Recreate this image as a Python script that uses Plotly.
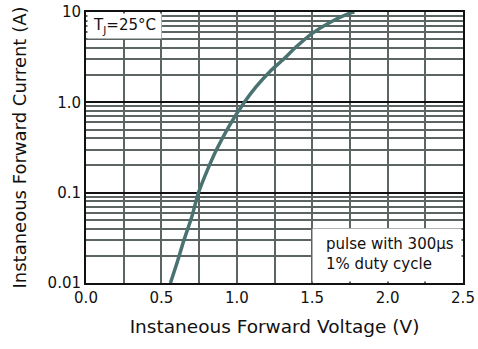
import plotly.graph_objects as go

# Forward characteristic
voltage = [0.56, 0.60, 0.65, 0.70, 0.746, 0.80, 0.866, 0.95, 1.05, 1.13, 1.22, 1.30, 1.40, 1.50, 1.62, 1.75, 1.78]
current = [0.01, 0.016, 0.03, 0.053, 0.1, 0.17, 0.3, 0.55, 1.0, 1.5, 2.2, 2.9, 4.2, 5.8, 7.7, 9.7, 10.0]

y_tickvals = [0.01, 0.1, 1, 10]
y_ticktext = ["0.01", "0.1", "1.0", "10"]
x_tickvals = [0.0, 0.5, 1.0, 1.5, 2.0, 2.5]
x_ticktext = ["0.0", "0.5", "1.0", "1.5", "2.0", "2.5"]
y_minor = [m * d for d in (0.01, 0.1, 1) for m in range(2, 10)]

GRID = "#5c6562"
CURVE = "#4a7270"
FONT = "DejaVu Sans, Liberation Sans, sans-serif"

fig = go.Figure()
fig.add_trace(go.Scatter(
    x=voltage, y=current, mode="lines",
    line=dict(color=CURVE, width=3.5, shape="spline", smoothing=0.8),
    hoverinfo="skip", showlegend=False,
))

fig.update_layout(
    width=478, height=349,
    margin=dict(l=86, r=15, t=12, b=66),
    paper_bgcolor="white", plot_bgcolor="white",
    font=dict(family=FONT, size=15, color="#111111"),
    showlegend=False,
)

fig.update_xaxes(
    range=[0, 2.5], tickvals=x_tickvals, ticktext=x_ticktext, ticks="",
    showgrid=True, gridcolor=GRID, gridwidth=2,
    minor=dict(dtick=0.25, showgrid=True, gridcolor=GRID, gridwidth=2, ticks=""),
    showline=True, linecolor="#111111", linewidth=2, mirror=True,
    zeroline=False, tickfont=dict(size=15), automargin=False,
    title=dict(text="Instaneous Forward Voltage (V)", font=dict(size=18.5), standoff=14),
)
fig.update_yaxes(
    type="log", range=[-2, 1], tickvals=y_tickvals, ticktext=y_ticktext, ticks="",
    showgrid=True, gridcolor="#111111", gridwidth=1.5,
    minor=dict(tickvals=y_minor, showgrid=True, gridcolor=GRID, gridwidth=2, ticks=""),
    showline=True, linecolor="#111111", linewidth=2, mirror=True,
    zeroline=False, tickfont=dict(size=15), automargin=False,
    title=dict(text="Instaneous Forward Current (A)", font=dict(size=18), standoff=16),
)

fig.add_annotation(
    xref="paper", yref="paper", x=0, y=1, xanchor="left", yanchor="top",
    xshift=1, yshift=-1,
    text="T<sub>J</sub>=25°C", showarrow=False, align="center",
    bgcolor="white", width=73, height=24, borderpad=0,
    font=dict(size=15, family=FONT, color="#111111"),
)
# white panel behind the test-condition note
fig.add_annotation(
    xref="paper", yref="paper", x=1, y=0, xanchor="right", yanchor="bottom",
    xshift=-1, yshift=1,
    text=" ", showarrow=False,
    bgcolor="white", width=148, height=52, borderpad=0,
)
fig.add_annotation(
    xref="paper", yref="paper", x=1, y=0, xanchor="right", yanchor="bottom",
    xshift=-7, yshift=8,
    text="pulse with 300µs<br>1% duty cycle", showarrow=False, align="left",
    font=dict(size=15, family=FONT, color="#111111"),
)

fig.write_html(
    "out.html",
    config={"displayModeBar": False},
    post_script="document.body.style.margin='0';document.body.style.overflow='hidden';",
)
